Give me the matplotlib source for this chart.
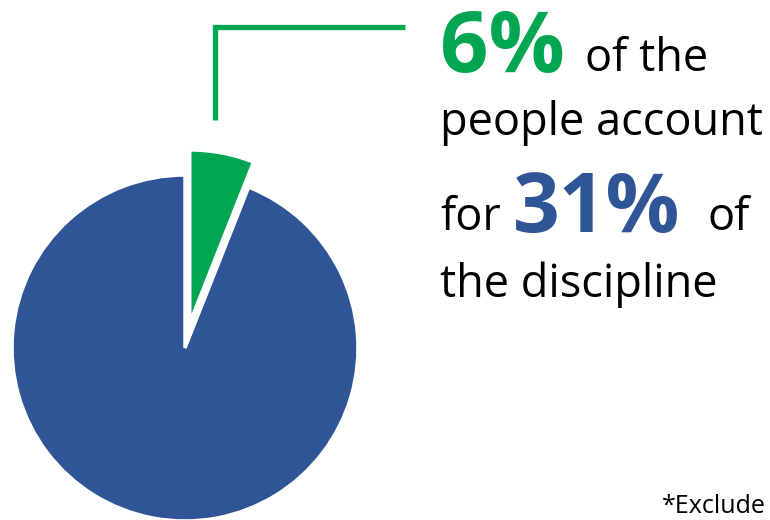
import matplotlib
matplotlib.use("Agg")
import matplotlib.pyplot as plt

# Data
labels = ["Top 6% of people", "Remaining 94%"]
shares = [6, 94]
colors = ["#00a651", "#2f5597"]
headline_pct = "6%"
discipline_pct = "31%"
note = "*Exclude"

W, H = 770, 520
fig = plt.figure(figsize=(7.7, 5.2), dpi=100)
ax = fig.add_axes([0, 0, 1, 1])
ax.set_xlim(0, W)
ax.set_ylim(0, H)
ax.set_aspect("equal")
ax.axis("off")

def Y(py):
    return H - py

ax.pie(shares, colors=colors, startangle=90, counterclock=False,
       center=(185, Y(348)), radius=173, explode=[25.5, 0],
       wedgeprops=dict(edgecolor="white", linewidth=2.5))
ax.set_xlim(0, W)
ax.set_ylim(0, H)

# leader line
ax.plot([215, 215, 405], [Y(120), Y(27), Y(27)], color=colors[0], lw=3.8,
        solid_capstyle="butt", solid_joinstyle="miter")

font = "Open Sans"
reg = dict(fontsize=32.5, family=font, color="black", va="baseline", ha="left")
ax.text(440, Y(72), headline_pct, fontsize=61, fontweight="bold", family=font,
        color=colors[0], va="baseline", ha="left")
ax.text(585, Y(71), "of the", **reg)
ax.text(440, Y(135), "people account", **reg)
ax.text(440, Y(230), "for", **reg)
ax.text(513, Y(232), discipline_pct, fontsize=59, fontweight="bold", family=font,
        color=colors[1], va="baseline", ha="left")
ax.text(707, Y(230), "of", **reg)
ax.text(440, Y(297), "the discipline", **reg)
ax.text(766, Y(513), note, fontsize=18, family=font, color="black",
        va="baseline", ha="right")

fig.savefig("out.png", dpi=100)
